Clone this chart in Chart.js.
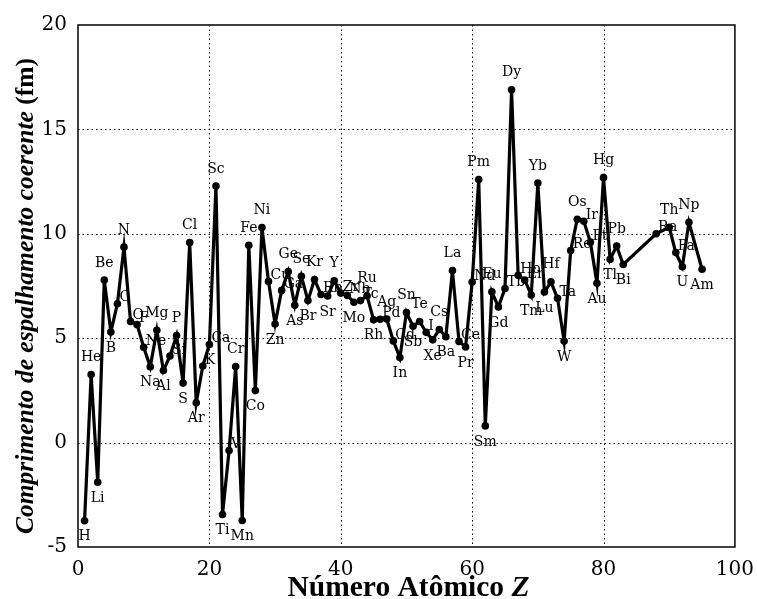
<!DOCTYPE html>
<html>
<head>
<meta charset="utf-8">
<script src="https://cdn.jsdelivr.net/npm/chart.js@4.4.0/dist/chart.umd.min.js"></script>
<style>
    body { margin: 0; background: white; }
    #box { width: 757px; height: 599px; }
</style>
</head>
<body>
<div id="box"><canvas id="grafico"></canvas></div>
<script>
// numero atomico, simbolo e comprimento de espalhamento coerente (fm)
var numeros = [1, 2, 3, 4, 5, 6, 7, 8, 9, 10, 11, 12, 13, 14, 15, 16, 17, 18, 19, 20,
    21, 22, 23, 24, 25, 26, 27, 28, 29, 30, 31, 32, 33, 34, 35, 36, 37, 38, 39, 40,
    41, 42, 43, 44, 45, 46, 47, 48, 49, 50, 51, 52, 53, 54, 55, 56, 57, 58, 59, 60,
    61, 62, 63, 64, 65, 66, 67, 68, 69, 70, 71, 72, 73, 74, 75, 76, 77, 78, 79, 80,
    81, 82, 83, 88, 90, 91, 92, 93, 95]
var simbolos = ["H", "He", "Li", "Be", "B", "C", "N", "O", "F", "Ne", "Na", "Mg", "Al", "Si", "P", "S", "Cl", "Ar", "K", "Ca",
    "Sc", "Ti", "V", "Cr", "Mn", "Fe", "Co", "Ni", "Cu", "Zn", "Ga", "Ge", "As", "Se", "Br", "Kr", "Rb", "Sr", "Y", "Zr",
    "Nb", "Mo", "Tc", "Ru", "Rh", "Pd", "Ag", "Cd", "In", "Sn", "Sb", "Te", "I", "Xe", "Cs", "Ba", "La", "Ce", "Pr", "Nd",
    "Pm", "Sm", "Eu", "Gd", "Tb", "Dy", "Ho", "Er", "Tm", "Yb", "Lu", "Hf", "Ta", "W", "Re", "Os", "Ir", "Pt", "Au", "Hg",
    "Tl", "Pb", "Bi", "Ra", "Th", "Pa", "U", "Np", "Am"]
var comprimentos = [-3.74, 3.26, -1.90, 7.79, 5.30, 6.65, 9.36, 5.80, 5.65, 4.57, 3.63, 5.38, 3.45, 4.15, 5.13, 2.85, 9.58, 1.91, 3.67, 4.70,
    12.29, -3.44, -0.38, 3.64, -3.73, 9.45, 2.49, 10.3, 7.72, 5.68, 7.29, 8.19, 6.58, 7.97, 6.80, 7.81, 7.09, 7.02, 7.75, 7.16,
    7.05, 6.72, 6.8, 7.03, 5.88, 5.91, 5.92, 4.87, 4.07, 6.23, 5.57, 5.80, 5.28, 4.92, 5.42, 5.07, 8.24, 4.84, 4.58, 7.69,
    12.6, 0.80, 7.22, 6.5, 7.38, 16.9, 8.01, 7.79, 7.07, 12.43, 7.21, 7.7, 6.91, 4.86, 9.2, 10.7, 10.6, 9.60, 7.63, 12.69,
    8.78, 9.41, 8.53, 10.0, 10.31, 9.1, 8.42, 10.55, 8.3]

var ticksX = [0, 20, 40, 60, 80, 100]
var ticksY = [-5, 0, 5, 10, 15, 20]

var pontos = []
for (var i = 0; i < numeros.length; i++) {
    pontos.push({ x: numeros[i], y: comprimentos[i] })
}

var serif = "'Liberation Serif', 'DejaVu Serif', serif"

// grade pontilhada so nas linhas internas
var grade = {
    id: 'grade',
    beforeDatasetsDraw(chart) {
        var ctx = chart.ctx
        var a = chart.chartArea
        var sx = chart.scales.x
        var sy = chart.scales.y
        ctx.save()
        ctx.strokeStyle = '#000'
        ctx.lineWidth = 1
        ctx.setLineDash([1.5, 3])
        ticksX.forEach(function (v) {
            if (v === sx.min || v === sx.max) return
            var px = Math.round(sx.getPixelForValue(v)) + 0.5
            ctx.beginPath()
            ctx.moveTo(px, a.top)
            ctx.lineTo(px, a.bottom)
            ctx.stroke()
        })
        ticksY.forEach(function (v) {
            if (v === sy.min || v === sy.max) return
            var py = Math.round(sy.getPixelForValue(v)) + 0.5
            ctx.beginPath()
            ctx.moveTo(a.left, py)
            ctx.lineTo(a.right, py)
            ctx.stroke()
        })
        ctx.restore()
    }
}

// rotulos dos elementos: acima se maximo local, abaixo se minimo, senao a direita
var rotulos = {
    id: 'rotulos',
    afterDatasetsDraw(chart) {
        var ctx = chart.ctx
        var meta = chart.getDatasetMeta(0)
        ctx.save()
        ctx.font = "14px 'DejaVu Serif', serif"
        ctx.fillStyle = '#000'
        ctx.textBaseline = 'middle'
        for (var i = 0; i < meta.data.length; i++) {
            var p = meta.data[i]
            var v = comprimentos[i]
            var ant = i > 0 ? comprimentos[i - 1] : null
            var prox = i < comprimentos.length - 1 ? comprimentos[i + 1] : null
            var acima = (ant === null || v > ant) && (prox === null || v > prox)
            var abaixo = (ant === null || v < ant) && (prox === null || v < prox)
            if (acima) {
                ctx.textAlign = 'center'
                ctx.fillText(simbolos[i], p.x, p.y - 17)
            } else if (abaixo) {
                ctx.textAlign = 'center'
                ctx.fillText(simbolos[i], p.x, p.y + 16)
            } else {
                ctx.textAlign = 'left'
                ctx.fillText(simbolos[i], p.x + 2, p.y - 6)
            }
        }
        ctx.restore()
    }
}

// moldura e titulos dos eixos (fontes misturadas)
var moldura = {
    id: 'moldura',
    afterDraw(chart) {
        var ctx = chart.ctx
        var a = chart.chartArea
        ctx.save()
        ctx.strokeStyle = '#000'
        ctx.lineWidth = 1.5
        ctx.setLineDash([])
        ctx.strokeRect(a.left, a.top, a.right - a.left, a.bottom - a.top)

        // titulo x
        var t1 = 'Número Atômico '
        var t2 = 'Z'
        ctx.fillStyle = '#000'
        ctx.textBaseline = 'alphabetic'
        ctx.textAlign = 'left'
        ctx.font = "bold 29.5px " + serif
        var w1 = ctx.measureText(t1).width
        ctx.font = "bold italic 29.5px " + serif
        var w2 = ctx.measureText(t2).width
        var cx = (a.left + a.right) / 2 + 2
        var x0 = cx - (w1 + w2) / 2
        ctx.font = "bold 29.5px " + serif
        ctx.fillText(t1, x0, 596)
        ctx.font = "bold italic 29.5px " + serif
        ctx.fillText(t2, x0 + w1, 596)

        // titulo y
        var s1 = 'Comprimento de espalhamento coerente '
        var s2 = '(fm)'
        ctx.translate(33, 296)
        ctx.rotate(-Math.PI / 2)
        ctx.font = "bold italic 25.5px " + serif
        var u1 = ctx.measureText(s1).width
        ctx.font = "bold 25.5px " + serif
        var u2 = ctx.measureText(s2).width
        var y0 = -(u1 + u2) / 2
        ctx.font = "bold italic 25.5px " + serif
        ctx.fillText(s1, y0, 0)
        ctx.font = "bold 25.5px " + serif
        ctx.fillText(s2, y0 + u1, 0)
        ctx.restore()
    }
}

const ctxGrafico = document.getElementById('grafico')
var grafico = new Chart(ctxGrafico, {
    type: 'scatter',
    data: {
        datasets: [{
            data: pontos,
            showLine: true,
            borderColor: '#000',
            backgroundColor: '#000',
            borderWidth: 3.2,
            pointRadius: 3.8,
            pointBorderWidth: 0,
            tension: 0
        }]
    },
    plugins: [grade, rotulos, moldura],
    options: {
        responsive: true,
        maintainAspectRatio: false,
        animation: false,
        layout: {
            padding: { top: 25, right: 22, left: 0, bottom: 0 }
        },
        plugins: {
            legend: { display: false },
            tooltip: { enabled: false }
        },
        scales: {
            x: {
                type: 'linear',
                min: 0,
                max: 100,
                afterBuildTicks: function (s) {
                    s.ticks = ticksX.map(function (v) { return { value: v } })
                },
                afterFit: function (s) { s.height = 52 },
                ticks: {
                    color: '#000',
                    padding: 3,
                    maxRotation: 0,
                    font: { family: "'DejaVu Serif', serif", size: 20 }
                },
                grid: { display: false },
                border: { display: false }
            },
            y: {
                min: -5,
                max: 20,
                afterBuildTicks: function (s) {
                    s.ticks = ticksY.map(function (v) { return { value: v } })
                },
                afterFit: function (s) { s.width = 78 },
                ticks: {
                    color: '#000',
                    padding: 3,
                    font: { family: "'DejaVu Serif', serif", size: 20 }
                },
                grid: { display: false },
                border: { display: false }
            }
        }
    }
})
</script>
</body>
</html>
